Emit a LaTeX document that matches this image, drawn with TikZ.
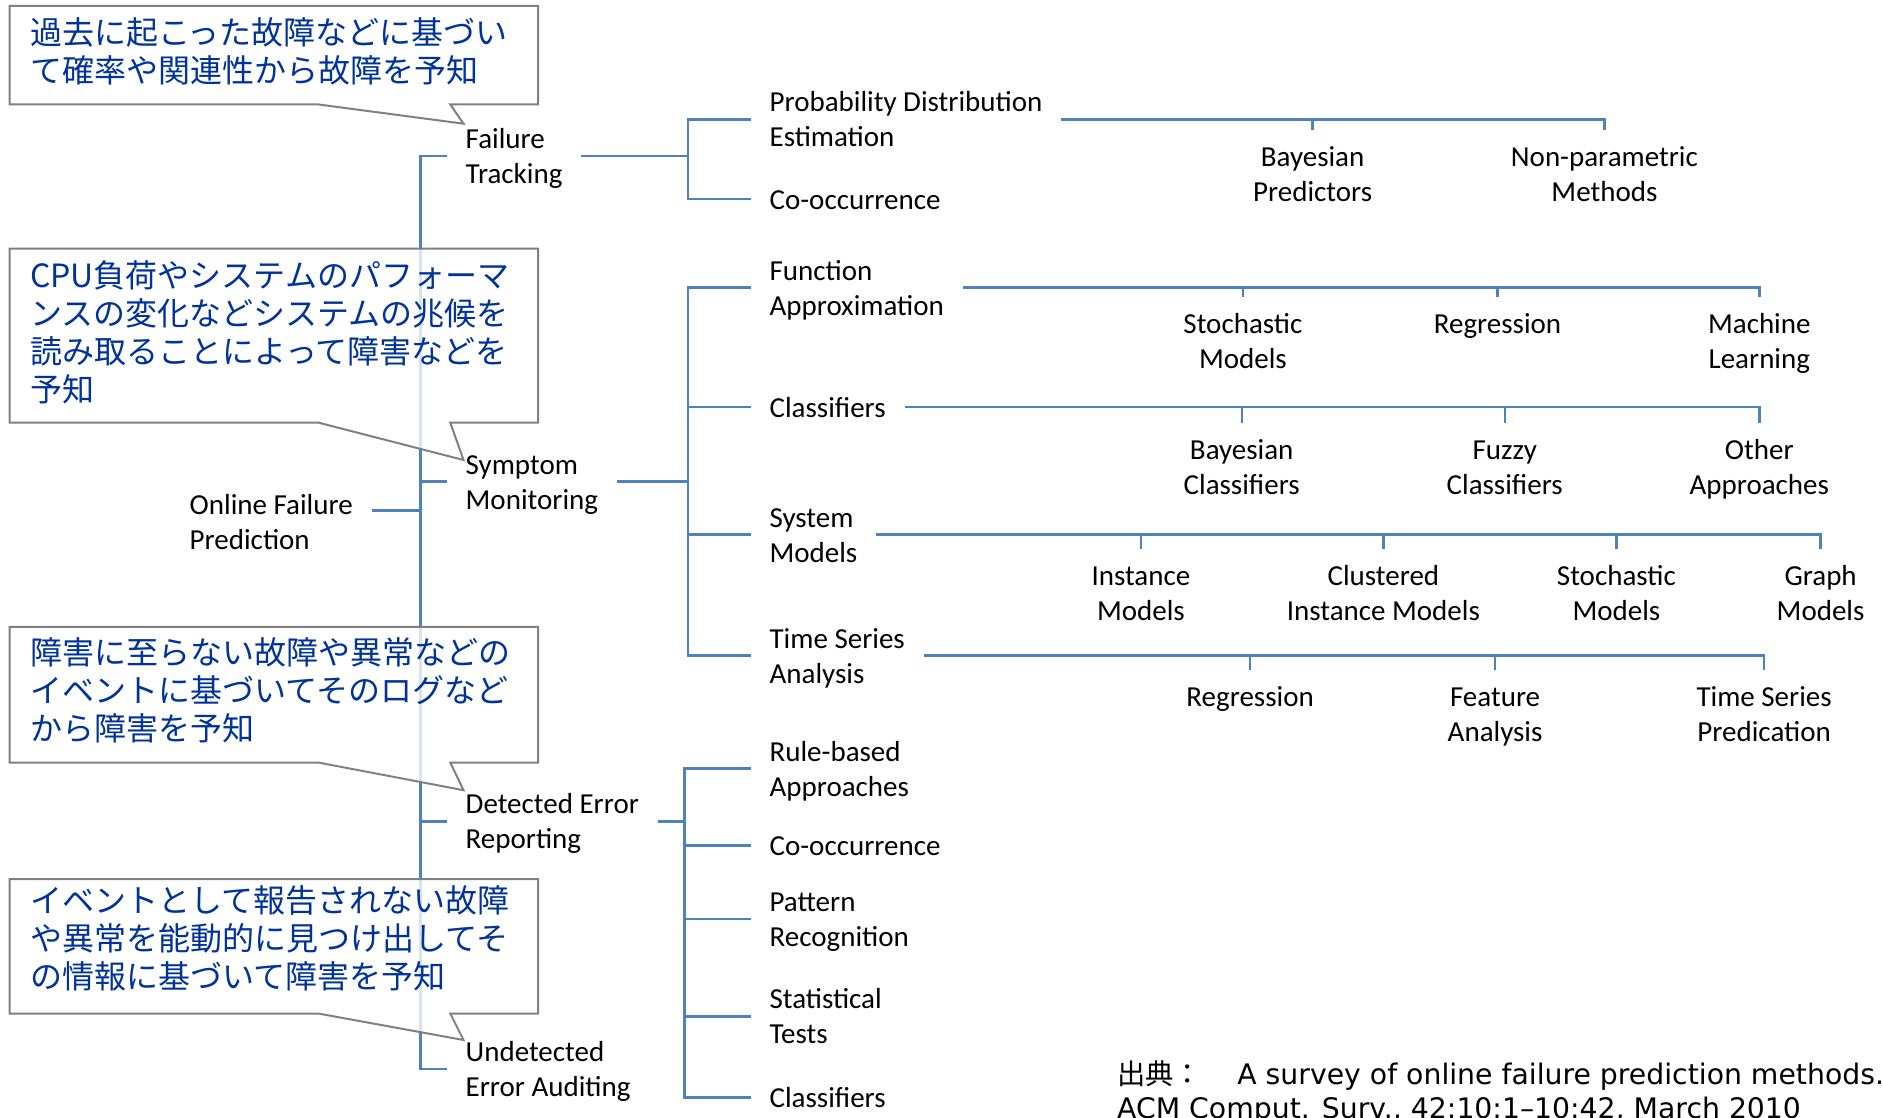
\documentclass[tikz,border=0pt]{standalone}
\usepackage{fontspec}
\setmainfont{Carlito}
\newfontfamily\cjk{Noto Sans CJK JP}
\newfontfamily\citefont{DejaVu Sans}
\usetikzlibrary{calc}
\definecolor{lineblue}{RGB}{79,129,189}
\definecolor{textblue}{RGB}{0,51,153}
\definecolor{calloutgray}{RGB}{128,128,128}
\newcommand\lab{\fontsize{29}{35}\selectfont}
\newcommand\jtext{\cjk\fontsize{32}{38}\selectfont}
\newcommand\citetext{\citefont\fontsize{28.3}{34}\selectfont}
\newcommand\ls{\rule[-7.5pt]{0pt}{35pt}}
\begin{document}
\begin{tikzpicture}[x=1pt,y=-1pt,
  lbl/.style={font=\lab, align=left, inner sep=0pt, outer xsep=19pt, anchor=west},
  leaf/.style={font=\lab, align=center, inner sep=0pt, outer ysep=12pt, anchor=north},
  conn/.style={draw=lineblue, line width=2.4pt},
  callout/.style={draw=calloutgray, line width=2pt, fill=white, fill opacity=0.78},
  jnote/.style={font=\jtext, text=textblue, align=left, inner sep=0pt, anchor=north west}]
\useasboundingbox (0,0) rectangle (1883,1118);
\clip (0,0) rectangle (1883,1118);

% ---- level 0 / 1 ----
\node[lbl] (root) at (170.7,522) {Online Failure\ls\\Prediction\ls};
\node[lbl] (ft)  at (446.7,156.1)  {Failure\ls\\Tracking\ls};
\node[lbl] (sm)  at (446.7,481.6)  {Symptom\ls\\Monitoring\ls};
\node[lbl] (der) at (446.7,821.4)  {Detected Error\ls\\Reporting\ls};
\node[lbl] (uea) at (446.7,1068.8) {Undetected\ls\\Error Auditing\ls};

% ---- level 2 ----
\node[lbl] (pd)   at (750.6,119.5) {Probability Distribution\ls\\Estimation\ls};
\node[lbl] (fco)  at (750.6,199.3) {Co-occurrence\ls};
\node[lbl] (fa)   at (750.6,287.5) {Function\ls\\Approximation\ls};
\node[lbl] (cl)   at (750.6,407.1) {Classifiers\ls};
\node[lbl] (sysm) at (750.6,534.6) {System\ls\\Models\ls};
\node[lbl] (tsa)  at (750.6,655.5) {Time Series\ls\\Analysis\ls};
\node[lbl] (rba)  at (750.6,768.5) {Rule-based\ls\\Approaches\ls};
\node[lbl] (dco)  at (750.6,845.4) {Co-occurrence\ls};
\node[lbl] (pr)   at (750.6,919.0) {Pattern\ls\\Recognition\ls};
\node[lbl] (st)   at (750.6,1016.3) {Statistical\ls\\Tests\ls};
\node[lbl] (dcl)  at (750.6,1097.6) {Classifiers\ls};

% ---- level 3 ----
\node[leaf] (bp)   at (1312.6,129.7) {Bayesian\strut\\Predictors\strut};
\node[leaf] (np)   at (1604.4,129.7) {Non-parametric\strut\\Methods\strut};
\node[leaf] (sto1) at (1242.9,296.6) {Stochastic\strut\\Models\strut};
\node[leaf] (reg1) at (1497.5,296.6) {Regression\strut};
\node[leaf] (ml)   at (1759.3,296.6) {Machine\strut\\Learning\strut};
\node[leaf] (bc)   at (1241.7,422.7) {Bayesian\strut\\Classifiers\strut};
\node[leaf] (fc)   at (1504.7,422.7) {Fuzzy\strut\\Classifiers\strut};
\node[leaf] (oa)   at (1759.3,422.7) {Other\strut\\Approaches\strut};
\node[leaf] (im)   at (1140.9,548.8) {Instance\strut\\Models\strut};
\node[leaf] (cim)  at (1383.4,548.8) {Clustered\strut\\Instance Models\strut};
\node[leaf] (sto2) at (1616.4,548.8) {Stochastic\strut\\Models\strut};
\node[leaf] (gm)   at (1820.6,548.8) {Graph\strut\\Models\strut};
\node[leaf] (reg2) at (1250.1,670.1) {Regression\strut};
\node[leaf] (fan)  at (1495.1,670.1) {Feature\strut\\Analysis\strut};
\node[leaf] (tsp)  at (1764.1,670.1) {Time Series\strut\\Predication\strut};

% ---- connectors level 0/1 ----
\coordinate (bus0) at (420.3,0);
\coordinate (rootc) at ($(root.east)+(0,-11.6)$);
\draw[conn] (ft.west) -| (bus0 |- uea.west) -- (uea.west);
\draw[conn] (sm.west) -- (sm.west -| bus0);
\draw[conn] (der.west) -- (der.west -| bus0);
\draw[conn] (rootc) -- (rootc -| bus0);

% ---- connectors level 2 ----
\coordinate (bus1) at (688.1,0);
\coordinate (bus2) at (684.5,0);
\draw[conn] (ft.east) -- (ft.east -| bus1);
\draw[conn] (pd.west) -| (bus1 |- fco.west) -- (fco.west);
\draw[conn] (sm.east) -- (sm.east -| bus1);
\draw[conn] (fa.west) -| (bus1 |- tsa.west) -- (tsa.west);
\draw[conn] (cl.west) -- (cl.west -| bus1);
\draw[conn] (sysm.west) -- (sysm.west -| bus1);
\draw[conn] (der.east) -- (der.east -| bus2);
\draw[conn] (rba.west) -| (bus2 |- dcl.west) -- (dcl.west);
\draw[conn] (dco.west) -- (dco.west -| bus2);
\draw[conn] (pr.west) -- (pr.west -| bus2);
\draw[conn] (st.west) -- (st.west -| bus2);

% ---- connectors level 3 ----
\draw[conn] (pd.east) -| (np.north);
\draw[conn] (bp.north) -- (bp.north |- pd.east);
\draw[conn] (fa.east) -| (ml.north);
\draw[conn] (sto1.north) -- (sto1.north |- fa.east);
\draw[conn] (reg1.north) -- (reg1.north |- fa.east);
\draw[conn] (cl.east) -| (oa.north);
\draw[conn] (bc.north) -- (bc.north |- cl.east);
\draw[conn] (fc.north) -- (fc.north |- cl.east);
\draw[conn] (sysm.east) -| (gm.north);
\draw[conn] (im.north) -- (im.north |- sysm.east);
\draw[conn] (cim.north) -- (cim.north |- sysm.east);
\draw[conn] (sto2.north) -- (sto2.north |- sysm.east);
\draw[conn] (tsa.east) -| (tsp.north);
\draw[conn] (reg2.north) -- (reg2.north |- tsa.east);
\draw[conn] (fan.north) -- (fan.north |- tsa.east);

% ---- callouts ----
\draw[callout] (9.6,6) -- (538,6) -- (538,104.5) -- (450.3,104.5) -- (463.5,123.7) -- (318.7,104.5) -- (9.6,104.5) -- cycle;
\draw[callout] (9.6,248.6) -- (538,248.6) -- (538,422.7) -- (450.3,422.7) -- (463.5,460) -- (318.7,422.7) -- (9.6,422.7) -- cycle;
\draw[callout] (9.6,626.9) -- (538,626.9) -- (538,762.6) -- (450.3,762.6) -- (463.5,790.2) -- (318.7,762.6) -- (9.6,762.6) -- cycle;
\draw[callout] (9.6,879) -- (538,879) -- (538,1013.6) -- (450.3,1013.6) -- (463.5,1040) -- (318.7,1013.6) -- (9.6,1013.6) -- cycle;

\node[jnote] (c1t) at (30,14.4) {\rule{0pt}{30pt}過去に起こった故障などに基づい\\て確率や関連性から故障を予知};
\node[jnote] (c2t) at (30,257) {\rule{0pt}{30pt}CPU負荷やシステムのパフォーマ\\ンスの変化などシステムの兆候を\\読み取ることによって障害などを\\予知};
\node[jnote] (c3t) at (30,634) {\rule{0pt}{30pt}障害に至らない故障や異常などの\\イベントに基づいてそのログなど\\から障害を予知};
\node[jnote] (c4t) at (30,882.7) {\rule{0pt}{30pt}イベントとして報告されない故障\\や異常を能動的に見つけ出してそ\\の情報に基づいて障害を予知};

% ---- citation ----
\node[anchor=north west, inner sep=0pt, font=\citetext, align=left] (cite) at (1117,1054.5)
  {\rule{0pt}{30pt}{\cjk 出典：　}\hspace{7pt}A survey of online failure prediction methods.\\ACM Comput. Surv., 42:10:1–10:42, March 2010};
\end{tikzpicture}
\end{document}
